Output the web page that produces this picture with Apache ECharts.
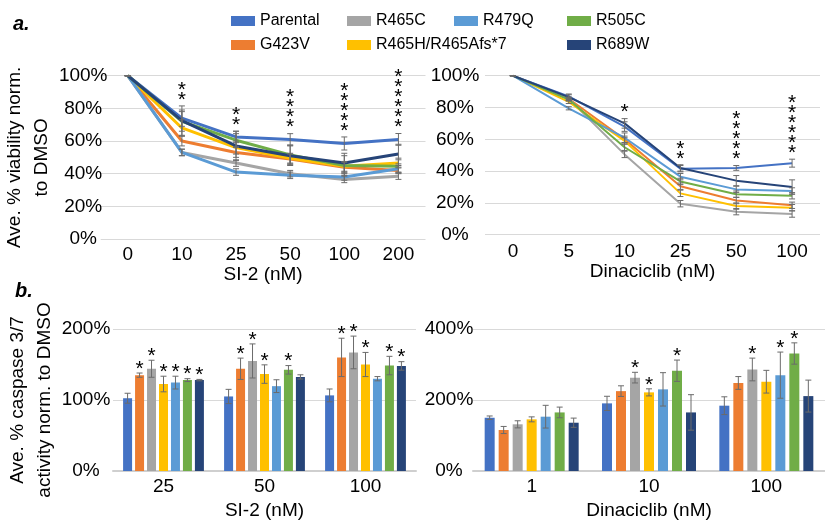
<!DOCTYPE html>
<html>
<head>
<meta charset="utf-8">
<script src="https://cdn.jsdelivr.net/npm/echarts@6/dist/echarts.min.js"></script>
<style>
  html, body { margin: 0; padding: 0; background: #fff; }
  #chart { width: 825px; height: 521px; }
</style>
</head>
<body>
<div id="chart"></div>
<script>
// 细胞系
const cellLines = ['Parental', 'G423V', 'R465C', 'R465H/R465Afs*7', 'R479Q', 'R505C', 'R689W']
const lineColors = ['#4472C4', '#ED7D31', '#A5A5A5', '#FFC000', '#5B9BD5', '#70AD47', '#264478']

// a. 存活率 - SI-2
const si2Doses = ['0', '10', '25', '50', '100', '200']
const si2Viability = [
  [100, 74, 62.5, 61, 58.5, 61],
  [100, 60, 53, 49, 44, 42],
  [100, 53, 46.5, 40, 36.5, 38.5],
  [100, 68, 56, 49.5, 44.5, 46.5],
  [100, 53, 41, 39, 38, 43],
  [100, 72, 60.5, 51.5, 45, 44.5],
  [100, 72.5, 57, 51, 46.5, 52]
]
const si2ViabilityErr = [
  [0, 5, 3.5, 3.5, 4, 3.6],
  [0, 3, 3, 3, 3, 2],
  [0, 2, 2, 2, 2, 2],
  [0, 5, 4, 3, 3, 3],
  [0, 2, 2, 2, 2, 2],
  [0, 6, 4, 6, 6, 4],
  [0, 9, 9, 6, 6, 6]
]
const si2Stars = [0, 2, 2, 4, 5, 6]

// a. 存活率 - Dinaciclib
const dinaDoses = ['0', '5', '10', '25', '50', '100']
const dinaViability = [
  [100, 87, 68, 41.5, 42, 45],
  [100, 85.5, 60, 30.5, 21.5, 18.5],
  [100, 85.5, 50.5, 19.5, 14.5, 13],
  [100, 83.5, 59, 26, 18, 17],
  [100, 79.5, 61, 36.5, 28.5, 27.5],
  [100, 85, 55, 33.5, 25.5, 24.5],
  [100, 86.5, 70, 42, 34, 30]
]
const dinaViabilityErr = [
  [0, 1.5, 3, 2, 1.5, 2.5],
  [0, 1, 2, 2, 2, 2],
  [0, 1, 2, 2, 2, 2],
  [0, 1, 2, 2, 2, 2],
  [0, 1, 3, 2, 2, 2],
  [0, 1, 2, 2, 2, 2],
  [0, 1.5, 3, 2, 3.2, 4.5]
]
const dinaStars = [0, 0, 1, 2, 5, 6]

// b. caspase 3/7 活性 - SI-2
const casSi2Doses = ['25', '50', '100']
const casSi2 = [
  [102.5, 105, 106.5],
  [135, 144, 160],
  [144, 155, 167],
  [122.5, 136.5, 150],
  [124.5, 119.5, 130],
  [128, 142.5, 148.5],
  [128, 132.5, 148]
]
const casSi2Err = [
  [7, 10, 9],
  [3, 15, 27],
  [12, 24, 23],
  [11, 13, 17],
  [9, 9, 3],
  [2, 6, 13],
  [1, 3, 6]
]
const casSi2Stars = [
  [0, 1, 1, 1, 1, 1, 1],
  [0, 1, 1, 1, 0, 1, 0],
  [0, 1, 1, 1, 0, 1, 1]
]

// b. caspase 3/7 活性 - Dinaciclib
const casDinaDoses = ['1', '10', '100']
const casDina = [
  [150, 190.5, 184],
  [115.5, 225, 248],
  [131.5, 263, 286],
  [145.5, 221.5, 251.5],
  [153, 230, 270],
  [165, 282.5, 331],
  [136, 165, 211]
]
const casDinaErr = [
  [5, 20, 25],
  [10, 15, 18],
  [10, 15, 32],
  [7, 10, 32],
  [32, 47, 65],
  [15, 30, 30],
  [13, 50, 45]
]
const casDinaStars = [
  [0, 0, 0, 0, 0, 0, 0],
  [0, 0, 1, 1, 0, 1, 0],
  [0, 0, 1, 0, 1, 1, 0]
]

const FONT = '"Liberation Sans", Arial, sans-serif'
const TEXT = '#000'
const GRID_LINE = '#d9d9d9'
const ERR_COLOR = '#6b6b6b'

const chart = echarts.init(document.getElementById('chart'))

// 误差线
const errorBarRender = (capHalf, pitch) => (params, api) => {
  const cat = api.value(0)
  const v = api.value(1)
  const e = api.value(2)
  const off = pitch ? (api.value(3) - 3) * pitch : 0
  const hi = api.coord([cat, v + e])
  const lo = api.coord([cat, v - e])
  const x = hi[0] + off
  const style = { stroke: ERR_COLOR, lineWidth: 1 }
  return {
    type: 'group',
    children: [
      { type: 'line', shape: { x1: x, y1: hi[1], x2: x, y2: lo[1] }, style },
      { type: 'line', shape: { x1: x - capHalf, y1: hi[1], x2: x + capHalf, y2: hi[1] }, style },
      { type: 'line', shape: { x1: x - capHalf, y1: lo[1], x2: x + capHalf, y2: lo[1] }, style }
    ]
  }
}

// 显著性星号
const starRender = (pitch, gap) => (params, api) => {
  const cat = api.value(0)
  const top = api.value(1)
  const n = api.value(2)
  const off = pitch ? (api.value(3) - 3) * pitch : 0
  const p = api.coord([cat, top])
  return {
    type: 'text',
    x: p[0] + off,
    y: p[1] - gap,
    style: {
      text: Array(n).fill('*').join('\n'),
      fill: TEXT,
      font: '21px ' + FONT,
      align: 'center',
      verticalAlign: 'bottom',
      lineHeight: 10
    }
  }
}

const errData = (vals, errs) => {
  const out = []
  vals.forEach((row, s) => row.forEach((v, c) => out.push([c, v, errs[s][c], s])))
  return out
}

const lineStarData = (vals, errs, stars) =>
  stars.map((n, c) => {
    let top = 0
    vals.forEach((row, s) => { top = Math.max(top, row[c] + errs[s][c]) })
    return [c, top, n]
  }).filter(d => d[2] > 0)

const barStarData = (vals, errs, stars) => {
  const out = []
  stars.forEach((row, c) => row.forEach((flag, s) => {
    if (flag) out.push([c, vals[s][c] + errs[s][c], 1, s])
  }))
  return out
}

const axisLabel = (extra) => Object.assign({ color: TEXT, fontFamily: FONT, fontSize: 19 }, extra)

const catAxis = (gridIndex, data, name, labelMargin, nameGap) => ({
  type: 'category',
  gridIndex,
  data,
  name,
  nameLocation: 'middle',
  nameGap,
  nameTextStyle: { color: TEXT, fontFamily: FONT, fontSize: 19 },
  axisLine: { show: gridIndex >= 2, lineStyle: { color: '#cfcfcf', width: 2 } },
  axisTick: { show: false },
  axisLabel: axisLabel({ margin: labelMargin })
})

const valAxis = (gridIndex, max, interval, margin, name, nameGap) => ({
  type: 'value',
  gridIndex,
  min: 0,
  max,
  interval,
  name,
  nameLocation: 'middle',
  nameGap,
  nameRotate: 90,
  nameTextStyle: { color: TEXT, fontFamily: FONT, fontSize: 19, lineHeight: 27, align: 'center' },
  axisLine: { show: false },
  axisTick: { show: false },
  splitLine: { lineStyle: { color: GRID_LINE, width: 1 } },
  axisLabel: axisLabel({ margin, align: 'center', formatter: '{value}%' })
})

const series = []

// 折线
;[[si2Viability, 0, 3], [dinaViability, 1, 2]].forEach(([vals, gi, w]) => {
  vals.forEach((row, s) => {
    series.push({
      name: cellLines[s],
      type: 'line',
      xAxisIndex: gi,
      yAxisIndex: gi,
      data: row,
      color: lineColors[s],
      showSymbol: false,
      lineStyle: { width: w },
      z: 3
    })
  })
})

// 柱状
;[[casSi2, 2, 9, '33%'], [casDina, 3, 10, '40%']].forEach(([vals, gi, bw, gap]) => {
  vals.forEach((row, s) => {
    series.push({
      name: cellLines[s],
      type: 'bar',
      xAxisIndex: gi,
      yAxisIndex: gi,
      data: row,
      color: lineColors[s],
      barWidth: bw,
      barGap: gap
    })
  })
})

// 误差线 & 星号
series.push(
  { type: 'custom', xAxisIndex: 0, yAxisIndex: 0, renderItem: errorBarRender(3), data: errData(si2Viability, si2ViabilityErr), z: 4, silent: true },
  { type: 'custom', xAxisIndex: 1, yAxisIndex: 1, renderItem: errorBarRender(3), data: errData(dinaViability, dinaViabilityErr), z: 4, silent: true },
  { type: 'custom', xAxisIndex: 2, yAxisIndex: 2, renderItem: errorBarRender(3, 9 * 1.33), data: errData(casSi2, casSi2Err), z: 4, silent: true },
  { type: 'custom', xAxisIndex: 3, yAxisIndex: 3, renderItem: errorBarRender(3, 14), data: errData(casDina, casDinaErr), z: 4, silent: true },
  { type: 'custom', xAxisIndex: 0, yAxisIndex: 0, renderItem: starRender(0, 1), data: lineStarData(si2Viability, si2ViabilityErr, si2Stars), z: 5, silent: true },
  { type: 'custom', xAxisIndex: 1, yAxisIndex: 1, renderItem: starRender(0, 1), data: lineStarData(dinaViability, dinaViabilityErr, dinaStars), z: 5, silent: true },
  { type: 'custom', xAxisIndex: 2, yAxisIndex: 2, renderItem: starRender(9 * 1.33, -1), data: barStarData(casSi2, casSi2Err, casSi2Stars), z: 5, silent: true },
  { type: 'custom', xAxisIndex: 3, yAxisIndex: 3, renderItem: starRender(14, -1), data: barStarData(casDina, casDinaErr, casDinaStars), z: 5, silent: true }
)

const legendBase = {
  orient: 'vertical',
  top: 8,
  icon: 'rect',
  itemWidth: 24,
  itemHeight: 10,
  itemGap: 8,
  textStyle: { color: TEXT, fontFamily: FONT, fontSize: 16 },
  selectedMode: false
}

chart.setOption({
  animation: false,
  textStyle: { fontFamily: FONT },
  legend: [
    Object.assign({}, legendBase, { left: 226, data: [cellLines[0], cellLines[1]] }),
    Object.assign({}, legendBase, { left: 342, data: [cellLines[2], cellLines[3]] }),
    Object.assign({}, legendBase, { left: 449, data: [cellLines[4]] }),
    Object.assign({}, legendBase, { left: 562, data: [cellLines[5], cellLines[6]] })
  ],
  graphic: [
    { type: 'text', left: 13, top: 14, style: { text: 'a.', font: 'italic bold 20px ' + FONT, fill: TEXT } },
    { type: 'text', left: 15, top: 281, style: { text: 'b.', font: 'italic bold 20px ' + FONT, fill: TEXT } }
  ],
  grid: [
    { left: 95.5, top: 75.7, width: 330, height: 163.3 },
    { left: 485, top: 75.7, width: 335, height: 159 },
    { left: 113, top: 329, width: 303, height: 143.7 },
    { left: 473, top: 329, width: 359, height: 142.7 }
  ],
  xAxis: [
    catAxis(0, si2Doses, 'SI-2 (nM)', 6, 24),
    catAxis(1, dinaDoses, 'Dinaciclib (nM)', 8, 26),
    catAxis(2, casSi2Doses, 'SI-2 (nM)', 6, 30),
    catAxis(3, casDinaDoses, 'Dinaciclib (nM)', 6, 30)
  ],
  yAxis: [
    valAxis(0, 100, 20, 17.5, 'Ave. % viability norm.\nto DMSO', 38),
    valAxis(1, 100, 20, 30),
    valAxis(2, 200, 100, 27, 'Ave. % caspase 3/7\nactivity norm. to DMSO', 55),
    valAxis(3, 400, 200, 24)
  ],
  series
})
</script>
</body>
</html>
